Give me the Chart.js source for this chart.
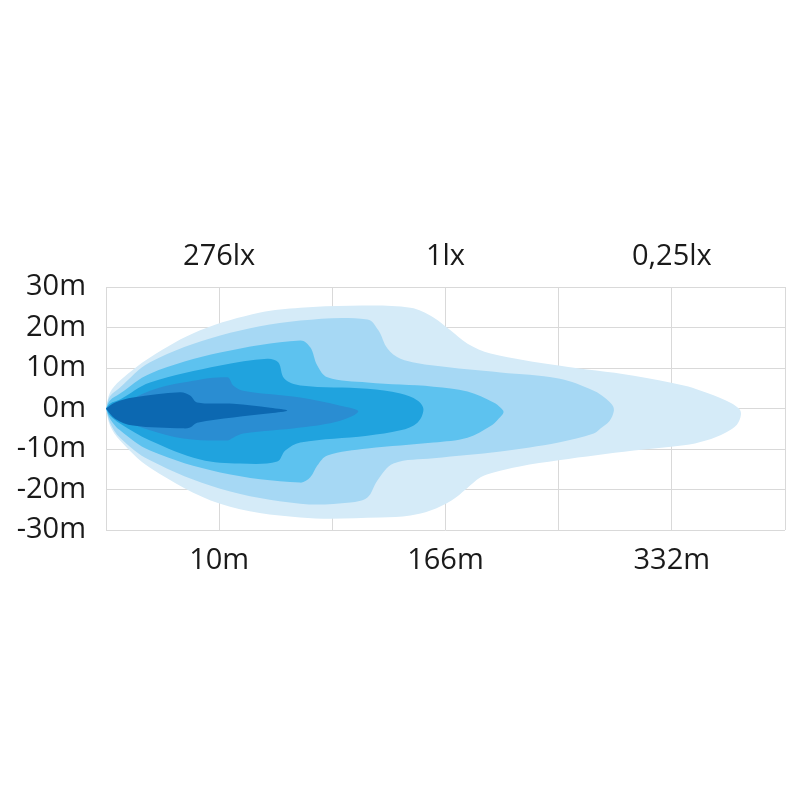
<!DOCTYPE html>
<html>
<head>
<meta charset="utf-8">
<script src="https://cdn.jsdelivr.net/npm/chart.js@4.4.1/dist/chart.umd.min.js"></script>
<style>
  body { margin: 0; background: #ffffff; }
</style>
</head>
<body>
<canvas id="beam" width="800" height="800"></canvas>
<script>
// x = grid division (0..6), y = metres left/right of the lamp axis
const distanceLabels = ["", "10m", "", "166m", "", "332m", ""];
const luxLabels = ["", "276lx", "", "1lx", "", "0,25lx", ""];
const widthTicks = [-30, -20, -10, 0, 10, 20, 30];

// isolux contours, outermost first, traced as closed outlines [x, y]
const zone1 = [[0,0],[0.035,3.9],[0.124,6.9],[0.389,12.6],[0.832,19.3],[1.363,23.7],[1.717,24.9],[2.159,25.4],[2.69,24.9],[2.894,22.5],[3.044,19.3],[3.195,16.0],[3.398,13.6],[4.0,10.6],[4.664,8.1],[5.106,5.7],[5.257,4.4],[5.478,2.0],[5.593,0],[5.611,-1.5],[5.575,-4.0],[5.478,-5.9],[5.301,-7.9],[5.106,-9.1],[4.664,-10.4],[4.0,-12.8],[3.655,-14.3],[3.425,-15.8],[3.31,-17.0],[3.186,-19.8],[3.053,-22.7],[2.867,-25.2],[2.69,-26.4],[2.425,-26.9],[1.717,-26.9],[1.009,-23.5],[0.389,-14.6],[0.124,-7.9],[0.035,-4.2],[0,0]];
const zone2 = [[0,0],[0.035,3.0],[0.124,5.2],[0.389,11.4],[1.009,18.0],[1.717,21.7],[2.31,22.0],[2.407,19.3],[2.487,14.8],[2.602,12.3],[2.894,10.6],[3.487,8.9],[4.0,7.4],[4.31,4.4],[4.416,2.5],[4.478,0.7],[4.487,-0.7],[4.451,-3.0],[4.372,-4.9],[4.31,-6.2],[4.0,-8.4],[3.487,-10.6],[2.894,-12.3],[2.54,-13.6],[2.398,-17.8],[2.31,-22.0],[2.159,-23.2],[1.717,-23.5],[1.009,-19.8],[0.389,-12.8],[0.124,-7.2],[0.035,-3.5],[0,0]];
const zone3 = [[0,0],[0.035,2.0],[0.124,3.7],[0.389,8.6],[1.009,13.8],[1.717,16.8],[1.805,15.1],[1.867,10.6],[1.956,7.7],[2.31,6.4],[2.894,5.4],[3.195,4.2],[3.425,1.5],[3.487,0.2],[3.513,-0.9],[3.469,-2.5],[3.395,-4.4],[3.195,-7.2],[2.894,-8.4],[2.31,-9.9],[1.956,-11.6],[1.867,-14.1],[1.805,-17.0],[1.717,-18.3],[1.009,-15.8],[0.389,-10.4],[0.124,-5.4],[0.035,-2.5],[0,0]];
const zone4 = [[0,0],[0.035,1.2],[0.124,2.2],[0.389,6.4],[1.009,10.6],[1.425,12.3],[1.522,11.4],[1.575,7.4],[1.717,5.7],[2.31,4.9],[2.602,3.7],[2.752,2.0],[2.805,-0.2],[2.752,-3.5],[2.602,-5.4],[2.31,-6.7],[1.717,-8.4],[1.584,-10.4],[1.513,-13.1],[1.186,-13.6],[0.832,-12.6],[0.389,-7.9],[0.124,-3.7],[0.035,-1.7],[0,0]];
const zone5 = [[0,0],[0.035,0.7],[0.124,1.0],[0.389,4.4],[0.681,6.4],[1.071,7.7],[1.124,5.7],[1.212,4.4],[1.717,2.7],[2.071,0.7],[2.23,-0.7],[2.071,-3.0],[1.717,-4.7],[1.212,-6.2],[1.124,-7.2],[1.071,-7.9],[0.681,-7.4],[0.389,-5.4],[0.124,-2.5],[0.035,-1.2],[0,0]];
const zone6 = [[0,0],[0.08,1.5],[0.239,2.7],[0.655,4.0],[0.743,3.2],[0.805,1.5],[1.124,1.2],[1.451,0.2],[1.602,-0.5],[1.451,-1.2],[1.124,-2.2],[0.805,-3.5],[0.743,-4.7],[0.681,-4.9],[0.239,-4.2],[0.08,-2.5],[0,0]];

const zones = [zone6, zone5, zone4, zone3, zone2, zone1];
const colours = ["#0c68b1", "#2a8dd2", "#20a3de", "#5dc2ef", "#a6d8f4", "#d5ebf8"];

const font = { family: "'Open Sans', sans-serif", size: 29 };

new Chart(document.getElementById("beam"), {
  type: "scatter",
  data: {
    datasets: zones.map((z, i) => ({
      data: z.map(p => ({ x: p[0], y: p[1] })),
      showLine: true,
      fill: "shape",
      backgroundColor: colours[i],
      borderWidth: 0,
      pointRadius: 0,
      tension: 0.35,
    })),
  },
  options: {
    responsive: false,
    animation: false,
    layout: { padding: { left: 0, right: 15, top: 227, bottom: 210 } },
    plugins: { legend: { display: false }, tooltip: { enabled: false } },
    scales: {
      x: {
        type: "linear",
        min: 0,
        max: 6,
        ticks: {
          stepSize: 1,
          padding: 13,
          color: "#1a1a1a",
          font: font,
          callback: v => distanceLabels[v],
        },
        grid: { color: "#d9d9d9", drawTicks: false },
        border: { display: false },
        afterFit: s => { s.height = 60; },
      },
      x2: {
        type: "linear",
        position: "top",
        min: 0,
        max: 6,
        ticks: {
          stepSize: 1,
          padding: 13,
          color: "#1a1a1a",
          font: font,
          callback: v => luxLabels[v],
        },
        grid: { display: false, drawTicks: false },
        border: { display: false },
        afterFit: s => { s.height = 60; },
      },
      y: {
        min: -30,
        max: 30,
        afterBuildTicks: s => { s.ticks = widthTicks.map(v => ({ value: v })); },
        ticks: {
          padding: 20,
          color: "#1a1a1a",
          font: font,
          callback: v => v + "m",
        },
        grid: { color: "#d9d9d9", drawTicks: false },
        border: { display: false },
        afterFit: s => { s.width = 106; },
      },
    },
  },
});
</script>
</body>
</html>
